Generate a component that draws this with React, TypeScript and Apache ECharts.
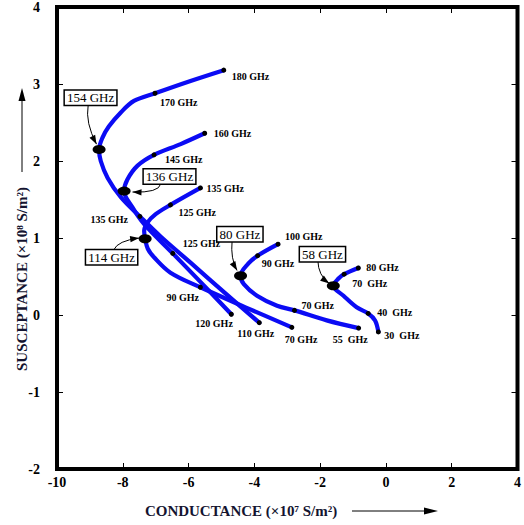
import React, { useEffect, useRef } from "react";
import * as echarts from "echarts";

// ---- axes ----
const X_MIN = -10;
const X_MAX = 4;
const X_STEP = 2;
const Y_MIN = -2;
const Y_MAX = 4;
const Y_STEP = 1;

// ---- curves (conductance ×1e7, susceptance ×1e8) ----
const curve154: number[][] = [
  [-4.93, 3.18], [-5.94, 3.04], [-7.02, 2.88], [-7.66, 2.78], [-8.06, 2.63],
  [-8.42, 2.45], [-8.62, 2.3], [-8.72, 2.15], [-8.67, 2.0], [-8.46, 1.78],
  [-8.06, 1.53], [-7.48, 1.28], [-6.85, 1.02], [-5.94, 0.68], [-4.88, 0.28],
  [-3.85, -0.1],
];
const curve136: number[][] = [
  [-5.51, 2.36], [-6.24, 2.22], [-7.05, 2.08], [-7.55, 1.94], [-7.86, 1.76],
  [-7.96, 1.61], [-7.71, 1.4], [-7.35, 1.18], [-6.48, 0.8], [-5.64, 0.43],
  [-4.7, 0.01],
];
const curve114: number[][] = [
  [-5.64, 1.65], [-6.55, 1.43], [-7.0, 1.31], [-7.25, 1.2], [-7.35, 1.09],
  [-7.32, 0.99], [-7.24, 0.86], [-7.05, 0.75], [-6.55, 0.55], [-5.64, 0.36],
  [-4.27, 0.1], [-2.86, -0.16],
];
const curve80: number[][] = [
  [-3.28, 0.92], [-3.9, 0.77], [-4.18, 0.67], [-4.42, 0.51], [-4.32, 0.4],
  [-3.92, 0.25], [-3.31, 0.12], [-2.78, 0.06], [-1.8, -0.07], [-0.83, -0.17],
];
const curve58: number[][] = [
  [-0.84, 0.61], [-1.27, 0.53], [-1.45, 0.47], [-1.6, 0.38], [-1.29, 0.25],
  [-0.89, 0.1], [-0.54, 0.02], [-0.33, -0.07], [-0.23, -0.22],
];

// ---- marked frequencies on the curves ----
const marks154: [number, number, string][] = [
  [-4.93, 3.18, "180 GHz"], [-7.02, 2.88, "170 GHz"], [-7.48, 1.28, "135 GHz"], [-3.85, -0.1, "110 GHz"],
];
const marks136: [number, number, string][] = [
  [-5.51, 2.36, "160 GHz"], [-7.05, 2.08, "145 GHz"], [-6.48, 0.8, "125 GHz"], [-4.7, 0.01, "120 GHz"],
];
const marks114: [number, number, string][] = [
  [-5.64, 1.65, "135 GHz"], [-6.55, 1.43, "125 GHz"], [-5.64, 0.36, "90 GHz"], [-2.86, -0.16, "70 GHz"],
];
const marks80: [number, number, string][] = [
  [-3.28, 0.92, "100 GHz"], [-3.9, 0.77, "90 GHz"], [-2.78, 0.06, "70 GHz"], [-0.83, -0.17, "55  GHz"],
];
const marks58: [number, number, string][] = [
  [-0.84, 0.61, "80 GHz"], [-1.27, 0.53, "70  GHz"], [-0.54, 0.02, "40  GHz"], [-0.23, -0.22, "30  GHz"],
];

// ---- resonances ----
const resonanceNames = ["154 GHz", "136 GHz", "114 GHz", "80 GHz", "58 GHz"];
const resonancePoints: number[][] = [
  [-8.72, 2.15], [-7.96, 1.61], [-7.32, 0.99], [-4.42, 0.51], [-1.6, 0.38],
];
const resonanceBoxAt: number[][] = [
  [-8.98, 2.82], [-6.58, 1.8], [-8.34, 0.75], [-4.44, 1.05], [-1.93, 0.79],
];

// ---- layout (pixels, styles) ----
const FONT = '"Liberation Serif", "Times New Roman", Times, serif';
const BLUE = "#0b0bf4";
const TITLE_COLOR = "#141430";

// label offsets [dx, dy, align] in the same order as the marks
const labelOffsets: Record<string, [number, number, string][]> = {
  m154: [[8, 6, "left"], [5, 9, "left"], [-12, 3, "right"], [-22, 11, "left"]],
  m136: [[9, 0, "left"], [11, 5, "left"], [10, -10, "left"], [-36, 9, "left"]],
  m114: [[6, 1, "left"], [8, 8, "left"], [-34, 10, "left"], [-7, 12, "left"]],
  m80: [[7, -8, "left"], [4, 8, "left"], [7, -5, "left"], [-26, 11, "left"]],
  m58: [[8, -1, "left"], [8, 9, "left"], [9, -1, "left"], [6, 4, "left"]],
};

// arrow geometry: s = start offset from box centre, c = control offset from start, t = tip offset from dot
const arrowLayout = [
  { s: [-2.4, 7.5], c: [-3, 17.2], t: [-2.6, -5.3] },
  { s: [-8.7, 7.5], c: [-2, 9], t: [8.4, 1] },
  { s: [2.2, -7.5], c: [4, -9], t: [-6, -0.7] },
  { s: [-7.8, 6.7], c: [-1.7, 18], t: [-3.5, -5.3] },
  { s: [-4.6, 6.3], c: [0.3, 15], t: [-4, -2.3] },
];

function arrowHead(cx: number, cy: number, tx: number, ty: number, len = 9, half = 3.2) {
  const dx = tx - cx;
  const dy = ty - cy;
  const d = Math.hypot(dx, dy) || 1;
  const ux = dx / d;
  const uy = dy / d;
  const bx = tx - ux * len;
  const by = ty - uy * len;
  const nx = -uy;
  const ny = ux;
  return [
    [tx, ty],
    [bx + nx * half, by + ny * half],
    [bx - nx * half, by - ny * half],
  ];
}

function lineSeries(data: number[][]) {
  return {
    type: "line",
    data,
    smooth: 0.35,
    showSymbol: false,
    symbol: "none",
    lineStyle: { color: BLUE, width: 4.2, cap: "round", join: "round" },
    z: 2,
    silent: true,
  };
}

function markSeries(marks: [number, number, string][], offs: [number, number, string][]) {
  return {
    type: "scatter",
    symbol: "circle",
    symbolSize: 5,
    itemStyle: { color: "#000", opacity: 1 },
    z: 5,
    silent: true,
    label: {
      show: true,
      position: "inside",
      color: "#000",
      fontFamily: FONT,
      fontWeight: "bold",
      fontSize: 10,
      verticalAlign: "middle",
      formatter: (p: any) => p.data.name,
    },
    data: marks.map((m, i) => ({
      value: [m[0], m[1]],
      name: m[2],
      label: { offset: [offs[i][0], offs[i][1]], align: offs[i][2] },
    })),
  };
}

export default function App() {
  const ref = useRef<HTMLDivElement>(null);

  useEffect(() => {
    if (!ref.current) return;
    const chart = echarts.init(ref.current, null, { renderer: "svg" });

    const axisCommon = {
      type: "value",
      splitLine: { show: false },
      axisLine: { show: false, onZero: false },
      axisTick: { show: true, inside: true, length: 6, lineStyle: { color: "#000", width: 1 } },
    };

    const option: any = {
      animation: false,
      backgroundColor: "#fff",
      grid: {
        show: true,
        left: 57,
        top: 5.5,
        width: 462,
        height: 463.5,
        borderColor: "#000",
        borderWidth: 4,
        backgroundColor: "transparent",
      },
      xAxis: [
        {
          ...axisCommon,
          min: X_MIN,
          max: X_MAX,
          interval: X_STEP,
          position: "bottom",
          axisLabel: {
            color: "#000",
            fontFamily: FONT,
            fontWeight: "bold",
            fontSize: 14,
            margin: 6,
          },
        },
        {
          ...axisCommon,
          min: X_MIN,
          max: X_MAX,
          interval: X_STEP,
          position: "top",
          axisLabel: { show: false },
        },
      ],
      yAxis: [
        {
          ...axisCommon,
          min: Y_MIN,
          max: Y_MAX,
          interval: Y_STEP,
          position: "left",
          axisLabel: {
            color: "#000",
            fontFamily: FONT,
            fontWeight: "bold",
            fontSize: 14,
            margin: 17,
          },
        },
        {
          ...axisCommon,
          min: Y_MIN,
          max: Y_MAX,
          interval: Y_STEP,
          position: "right",
          axisLabel: { show: false },
        },
      ],
      series: [
        lineSeries(curve154),
        lineSeries(curve136),
        lineSeries(curve114),
        lineSeries(curve80),
        lineSeries(curve58),
        markSeries(marks154, labelOffsets.m154),
        markSeries(marks136, labelOffsets.m136),
        markSeries(marks114, labelOffsets.m114),
        markSeries(marks80, labelOffsets.m80),
        markSeries(marks58, labelOffsets.m58),
        {
          type: "scatter",
          symbol: "circle",
          symbolSize: [13, 9],
          itemStyle: { color: "#000", opacity: 1 },
          z: 6,
          silent: true,
          data: resonancePoints,
        },
      ],
    };

    chart.setOption(option);

    const toPx = (p: number[]) => chart.convertToPixel({ seriesIndex: 0 }, p) as number[];

    const graphics: any[] = [];
    resonanceNames.forEach((name, i) => {
      const box = toPx(resonanceBoxAt[i]);
      const dot = toPx(resonancePoints[i]);
      const a = arrowLayout[i];
      const sx = box[0] + a.s[0];
      const sy = box[1] + a.s[1];
      const cx = sx + a.c[0];
      const cy = sy + a.c[1];
      const tx = dot[0] + a.t[0];
      const ty = dot[1] + a.t[1];
      graphics.push({
        type: "bezierCurve",
        z: 50,
        silent: true,
        shape: { x1: sx, y1: sy, x2: tx, y2: ty, cpx1: cx, cpy1: cy },
        style: { stroke: "#000", lineWidth: 1, fill: null },
      });
      graphics.push({
        type: "polygon",
        z: 51,
        silent: true,
        shape: { points: arrowHead(cx, cy, tx, ty) },
        style: { fill: "#000" },
      });
      graphics.push({
        type: "text",
        z: 60,
        silent: true,
        x: box[0],
        y: box[1],
        style: {
          text: name,
          font: `13px ${FONT}`,
          fill: "#000",
          align: "center",
          verticalAlign: "middle",
          backgroundColor: "#fff",
          borderColor: "#000",
          borderWidth: 1.5,
          padding: [1, 2, 0, 2],
        },
      });
    });

    // axis titles with arrows
    graphics.push({
      type: "text",
      silent: true,
      x: 241,
      y: 511,
      style: {
        text: "CONDUCTANCE (×10⁷ S/m²)",
        font: `bold 15px ${FONT}`,
        fill: TITLE_COLOR,
        align: "center",
        verticalAlign: "middle",
      },
    });
    graphics.push({
      type: "line",
      silent: true,
      shape: { x1: 352, y1: 511, x2: 428, y2: 511 },
      style: { stroke: "#000", lineWidth: 1 },
    });
    graphics.push({
      type: "polygon",
      silent: true,
      shape: { points: [[438, 511], [424, 507.5], [424, 514.5]] },
      style: { fill: "#000" },
    });
    graphics.push({
      type: "text",
      silent: true,
      x: 22,
      y: 279,
      rotation: Math.PI / 2,
      style: {
        text: "SUSCEPTANCE (×10⁸ S/m²)",
        font: `bold 15px ${FONT}`,
        fill: TITLE_COLOR,
        align: "center",
        verticalAlign: "middle",
      },
    });
    graphics.push({
      type: "line",
      silent: true,
      shape: { x1: 22, y1: 172, x2: 22, y2: 98 },
      style: { stroke: "#000", lineWidth: 1 },
    });
    graphics.push({
      type: "polygon",
      silent: true,
      shape: { points: [[22, 88], [18.5, 101], [25.5, 101]] },
      style: { fill: "#000" },
    });

    chart.setOption({ graphic: graphics });

    return () => chart.dispose();
  }, []);

  return (
    <div
      ref={ref}
      style={{ position: "fixed", left: 0, top: 0, width: 524, height: 525, background: "#fff" }}
    />
  );
}
